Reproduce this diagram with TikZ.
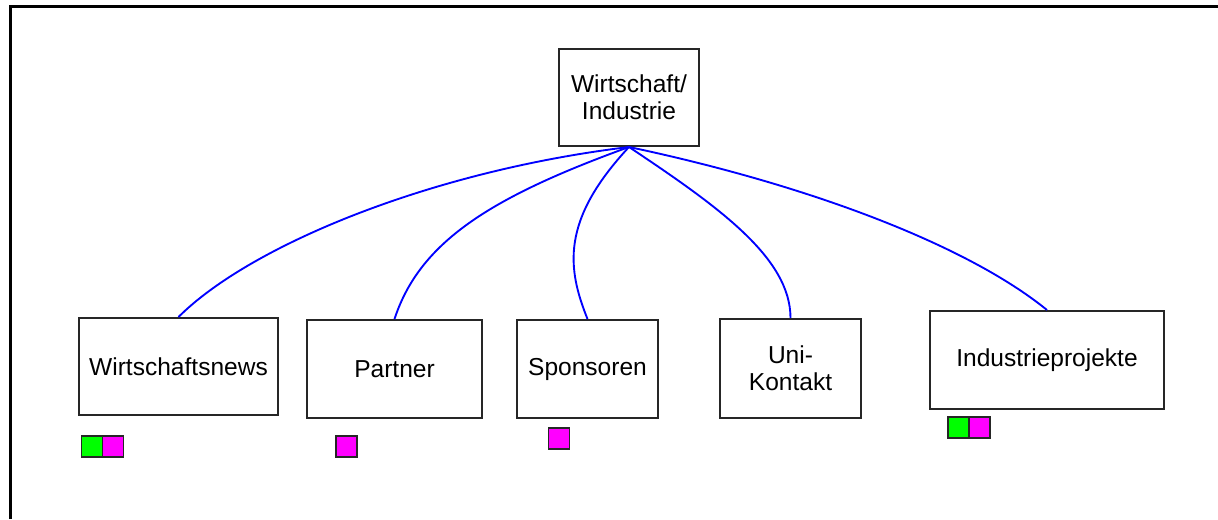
\documentclass[tikz,border=0pt]{standalone}
\usepackage{fontspec}
\setmainfont{Liberation Sans}
\usepackage{xcolor}
\usepackage{tikz}
\definecolor{tagGreen}{RGB}{0,255,0}
\definecolor{tagMagenta}{RGB}{255,0,255}
\tikzset{
  topic/.style={draw=black!85, line width=1.5pt, inner sep=0pt, align=center, font=\fontsize{18.4}{20}\selectfont},
  link/.style={draw=blue, line width=1.4pt},
  tag/.style={draw=black!85, line width=1.2pt, inner sep=0pt, minimum size=15.75pt},
}

\begin{document}
\begin{tikzpicture}[x=0.75pt,y=-0.75pt]
  \useasboundingbox (0,0) rectangle (1218,519);
  \draw[line width=2.25pt] (10.5,519) -- (10.5,6) -- (1218,6);

  \node[topic, minimum width=105pt, minimum height=72.75pt] (wi) at (629,97.5) {Wirtschaft/\\Industrie};
  \node[topic, minimum width=149.25pt, minimum height=72.75pt] (news) at (178.5,366.5) {Wirtschaftsnews};
  \node[topic, minimum width=131.25pt, minimum height=73.5pt] (partner) at (394.5,369) {Partner};
  \node[topic, minimum width=105.75pt, minimum height=73.5pt] (sponsor) at (587.5,369) {Sponsoren};
  \node[topic, minimum width=105.75pt, minimum height=74.25pt] (uni) at (790.5,368.5) {Uni-\\Kontakt};
  \node[topic, minimum width=175.5pt, minimum height=73.5pt] (projekte) at (1047,360) {Industrieprojekte};

  \draw[link] (wi.south) .. controls +(-199,24) and +(71,-71) .. (news.north);
  \draw[link] (wi.south) .. controls +(-141,51) and +(25,-76) .. (partner.north);
  \draw[link] (wi.south) .. controls +(-69,74) and +(-20,-50) .. (sponsor.north);
  \draw[link] (wi.south) .. controls +(90,60) and +(0,-60) .. (uni.north);
  \draw[link] (wi.south) .. controls +(180,38) and +(-80,-65) .. (projekte.north);

  \node[tag, fill=tagGreen] (newsG) at (92,446.5) {};
  \node[tag, fill=tagMagenta] (newsM) at (113,446.5) {};
  \node[tag, fill=tagMagenta] (partnerM) at (346.5,446.5) {};
  \node[tag, fill=tagMagenta] (sponsorM) at (559,438.5) {};
  \node[tag, fill=tagGreen] (projekteG) at (958.5,427.5) {};
  \node[tag, fill=tagMagenta] (projekteM) at (979.5,427.5) {};
\end{tikzpicture}
\end{document}
